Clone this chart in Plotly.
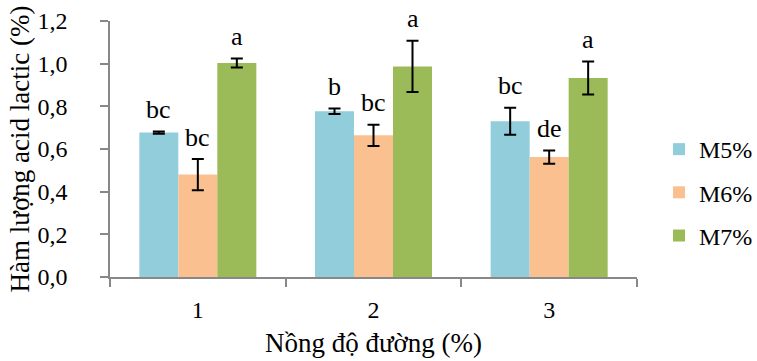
import plotly.graph_objects as go

categories = ["1", "2", "3"]
series_names = ["M5%", "M6%", "M7%"]
m5 = [0.677, 0.777, 0.730]
m6 = [0.480, 0.664, 0.562]
m7 = [1.003, 0.987, 0.933]
m5_err = [0.005, 0.013, 0.063]
m6_err = [0.073, 0.050, 0.031]
m7_err = [0.021, 0.120, 0.077]
m5_letters = ["bc", "b", "bc"]
m6_letters = ["bc", "bc", "de"]
m7_letters = ["a", "a", "a"]

colors = ["#92CDDC", "#FAC090", "#9BBB59"]
FONT = "Liberation Serif"
values = [m5, m6, m7]
errors = [m5_err, m6_err, m7_err]
letters = [m5_letters, m6_letters, m7_letters]
bargap = 0.334

fig = go.Figure()
for j, name in enumerate(series_names):
    fig.add_trace(go.Bar(
        x=categories, y=values[j], name=name,
        marker=dict(color=colors[j], line=dict(width=0)),
        error_y=dict(type="data", array=errors[j], color="black", thickness=2, width=6),
        legendgroup=name,
    ))

w = (1 - bargap) / 3
annotations = []
for j in range(3):
    for i in range(3):
        annotations.append(dict(
            x=i + (j - 1) * w, y=values[j][i] + errors[j][i], xref="x", yref="y",
            text=letters[j][i], showarrow=False, yanchor="middle", yshift=22,
            font=dict(family=FONT, size=26, color="black"),
        ))

fig.update_layout(
    width=757, height=361,
    margin=dict(l=110, r=120, t=21, b=84, autoexpand=False),
    plot_bgcolor="white", paper_bgcolor="white",
    separators=", ",
    barmode="group", bargap=bargap, bargroupgap=0,
    font=dict(family=FONT, size=24, color="black"),
    annotations=annotations,
    legend=dict(x=1.0 + 22 / 527, xref="paper", xanchor="left", y=0.33, yanchor="middle",
                font=dict(family=FONT, size=24), tracegroupgap=9,
                bgcolor="rgba(0,0,0,0)", itemclick=False),
    showlegend=True,
)
fig.update_xaxes(
    type="category", showline=True, linecolor="#888888", linewidth=1.5,
    ticks="outside", tickson="boundaries", ticklen=8, tickcolor="#888888", tickwidth=1.5,
    title=dict(text="Nồng độ đường (%)", font=dict(family=FONT, size=27), standoff=12),
    tickfont=dict(family=FONT, size=24), ticklabelstandoff=10,
)
fig.update_yaxes(
    range=[0, 1.2], dtick=0.2, tickformat=".1f", showline=True, linecolor="#888888", linewidth=1.5,
    ticks="outside", ticklen=8, tickcolor="#888888", tickwidth=1.5, showgrid=False, zeroline=False,
    title=dict(text="Hàm lượng acid lactic (%)", font=dict(family=FONT, size=27), standoff=0),
    tickfont=dict(family=FONT, size=24), ticklabelstandoff=28,
)
fig.write_html("out.html")
